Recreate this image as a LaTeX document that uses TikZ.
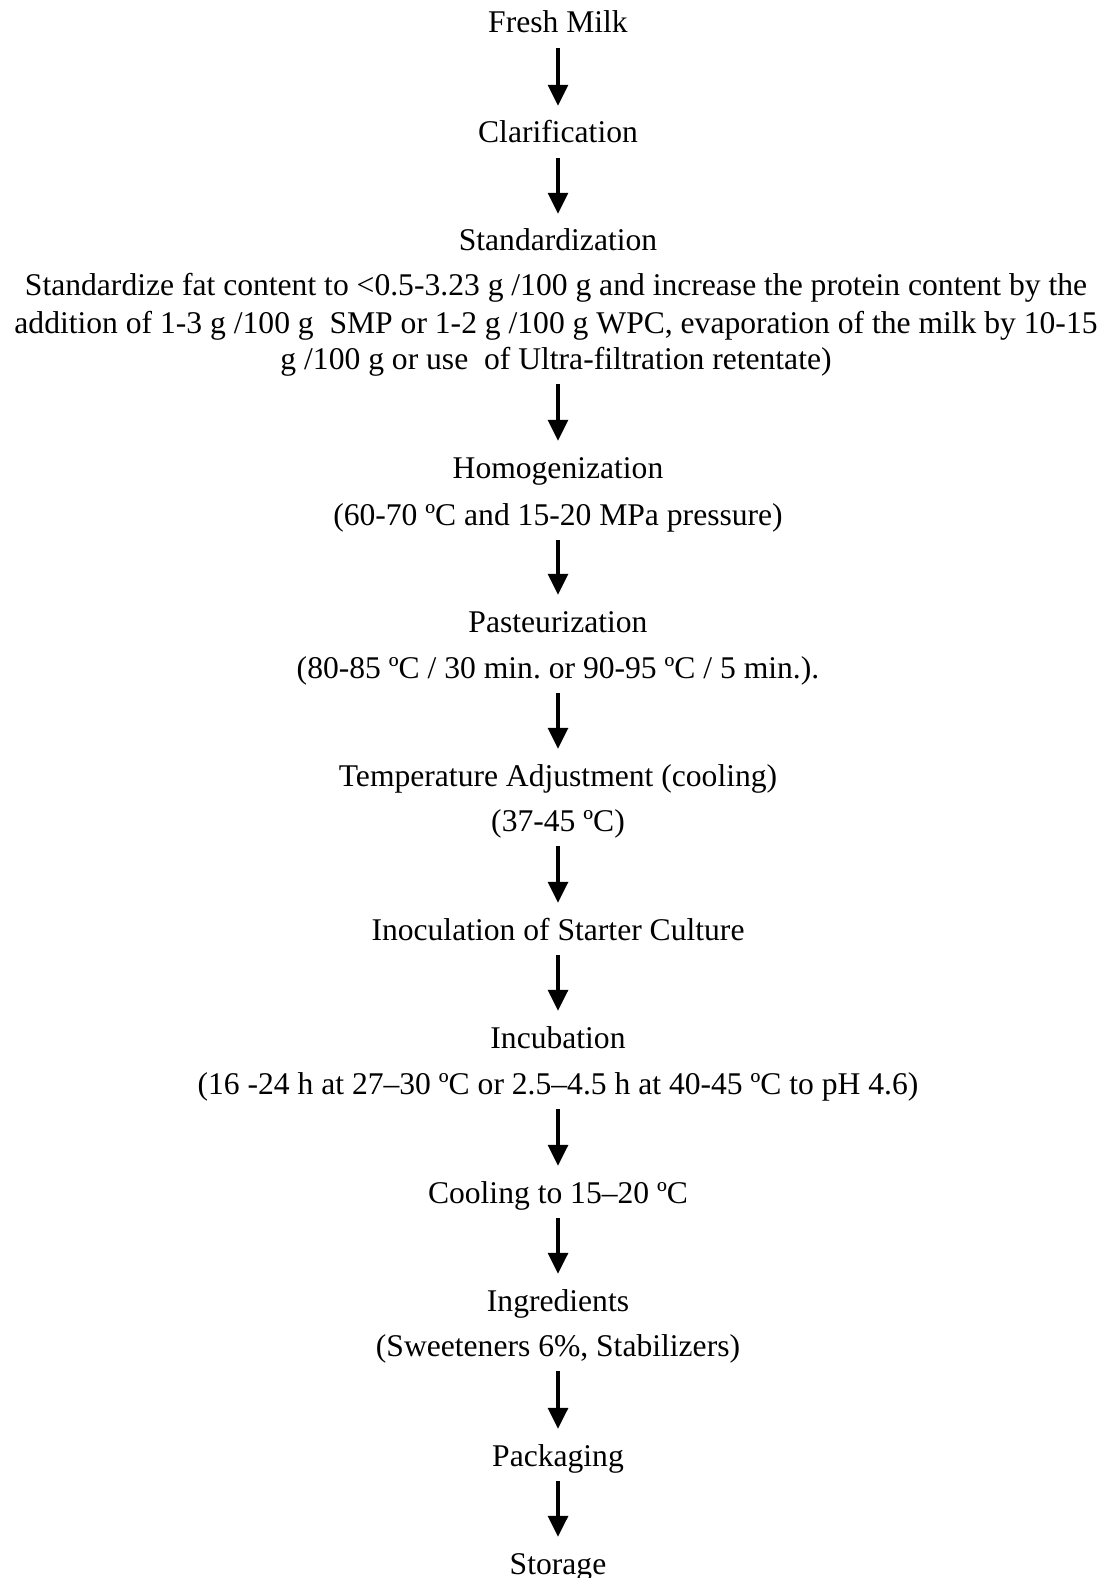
\documentclass[tikz,border=0pt]{standalone}
\usepackage{fontspec}
\setmainfont{Liberation Serif}
\usetikzlibrary{arrows.meta}
\frenchspacing
\begin{document}
\begin{tikzpicture}[x=1pt,y=-1pt,
  txt/.style={anchor=base,inner sep=0pt,text height=21pt,text depth=7pt,font=\fontsize{31.6}{37}\selectfont\frenchspacing},
  flow/.style={line width=3.3pt,-{Triangle[length=21pt,width=20pt]},shorten <=8pt,shorten >=16pt}]
\useasboundingbox[fill=white] (0,0) rectangle (1117,1578);
\node[txt] (fresh) at (558,33) {Fresh Milk};
\node[txt] (clar) at (558,143) {Clarification};
\node[txt] (stand) at (558,251) {Standardization};
\node[txt] (std1) at (556,296) {Standardize fat content to <0.5-3.23 g /100 g and increase the protein content by the};
\node[txt] (std2) at (556,333) {addition of 1-3 g /100 g\ \ SMP or 1-2 g /100 g WPC, evaporation of the milk by 10-15};
\node[txt] (std3) at (556,369) {g /100 g or use\ \ of Ultra-filtration retentate)};
\node[txt] (homo) at (558,478) {Homogenization};
\node[txt] (homo2) at (558,525) {(60-70 ºC and 15-20 MPa pressure)};
\node[txt] (past) at (558,632) {Pasteurization};
\node[txt] (past2) at (558,678) {(80-85 ºC / 30 min. or 90-95 ºC / 5 min.).};
\node[txt] (temp) at (558,786) {Temperature Adjustment (cooling)};
\node[txt] (temp2) at (558,831) {(37-45 ºC)};
\node[txt] (inoc) at (558,940) {Inoculation of Starter Culture};
\node[txt] (incub) at (558,1048) {Incubation};
\node[txt] (incub2) at (558,1094) {(16 -24 h at 27–30 ºC or 2.5–4.5 h at 40-45 ºC to pH 4.6)};
\node[txt] (cool) at (558,1203) {Cooling to 15–20 ºC};
\node[txt] (ingr) at (558,1311) {Ingredients};
\node[txt] (ingr2) at (558,1356) {(Sweeteners 6\%, Stabilizers)};
\node[txt] (pack) at (558,1466) {Packaging};
\node[txt] (stor) at (558,1574) {Storage};
\draw[flow] (fresh.south) -- (clar.north);
\draw[flow] (clar.south) -- (stand.north);
\draw[flow] (std3.south -| homo.north) -- (homo.north);
\draw[flow] (homo2.south) -- (past.north);
\draw[flow] (past2.south) -- (temp.north);
\draw[flow] (temp2.south) -- (inoc.north);
\draw[flow] (inoc.south) -- (incub.north);
\draw[flow] (incub2.south) -- (cool.north);
\draw[flow] (cool.south) -- (ingr.north);
\draw[flow] (ingr2.south) -- (pack.north);
\draw[flow] (pack.south) -- (stor.north);
\end{tikzpicture}
\end{document}
